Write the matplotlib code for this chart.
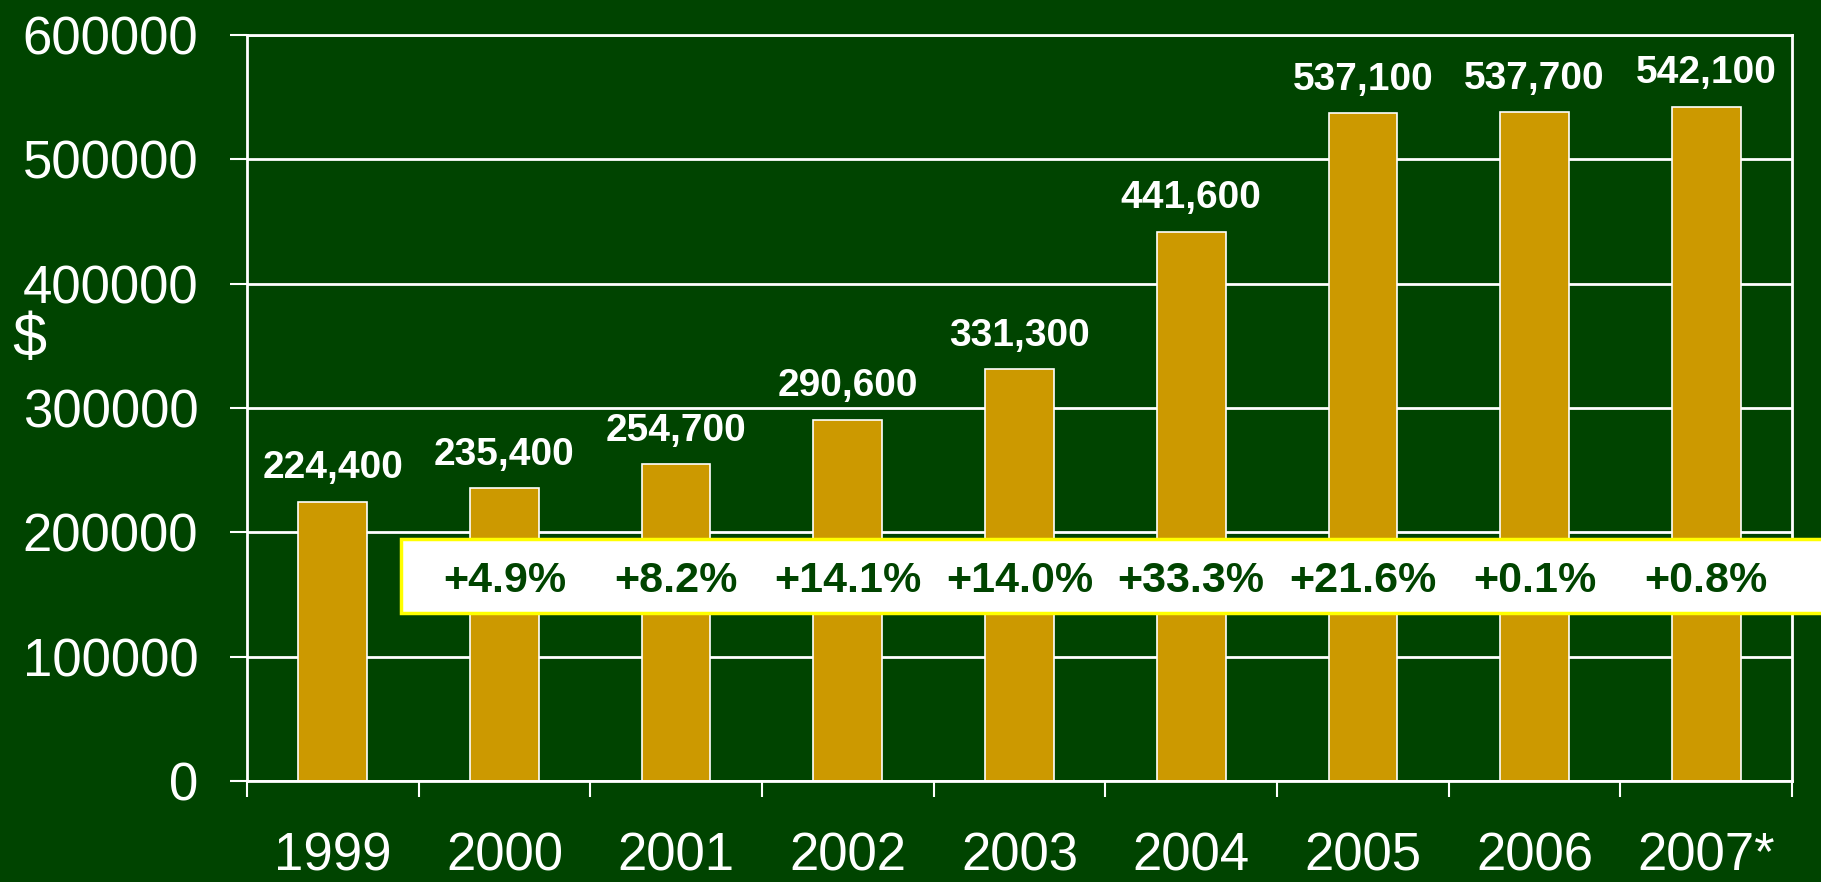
import matplotlib
matplotlib.use("Agg")
import matplotlib.pyplot as plt
from matplotlib.patches import Rectangle

# данные
years = ["1999", "2000", "2001", "2002", "2003", "2004", "2005", "2006", "2007*"]
prices = [224400, 235400, 254700, 290600, 331300, 441600, 537100, 537700, 542100]
changes = ["+4.9%", "+8.2%", "+14.1%", "+14.0%", "+33.3%", "+21.6%", "+0.1%", "+0.8%"]
yticks = [0, 100000, 200000, 300000, 400000, 500000, 600000]

bg = "#004400"
gold = "#CC9900"

plt.rcParams["font.family"] = ["Liberation Sans", "DejaVu Sans"]

fig = plt.figure(figsize=(18.21, 8.82), dpi=100, facecolor=bg)
ax = fig.add_axes([0.1356, 0.1145, 0.8485, 0.8458])
ax.set_facecolor(bg)

x = list(range(len(years)))
ax.bar(x, prices, width=0.4, color=gold, edgecolor="white", linewidth=1.2, zorder=2)

for xi, v in zip(x, prices):
    ax.text(xi, v + 12500, f"{v:,}", ha="center", va="bottom",
            color="white", fontsize=28, fontweight="bold", zorder=3)

ax.set_xlim(-0.5, len(years) - 0.5)
ax.set_ylim(0, 600000)
ax.set_yticks(yticks)
ax.set_yticklabels([str(t) for t in yticks])
ax.set_xticks(x)
ax.set_xticklabels(years)
ax.set_xticks([i - 0.5 for i in range(len(years) + 1)], minor=True)

ax.tick_params(axis="x", which="major", length=0, pad=36, labelsize=38, labelcolor="white")
ax.tick_params(axis="x", which="minor", length=11.5, width=1.5, color="white", direction="out")
ax.tick_params(axis="y", length=12, width=1.5, color="white", pad=23, labelsize=38, labelcolor="white")

ax.grid(axis="y", color="white", linewidth=2, zorder=1)
ax.set_axisbelow(True)
for s in ax.spines.values():
    s.set_color("white")
    s.set_linewidth(2)

fig.text(12 / 1821, 1 - 340 / 882, "$", color="white", fontsize=44, va="center", ha="left")

# белая плашка с процентами прироста
box = Rectangle((0.397, 135000), 8.5, 59500, facecolor="white", edgecolor="#FFFF00",
                linewidth=2.5, zorder=4, clip_on=False)
ax.add_patch(box)
for xi, t in zip(x[1:], changes):
    ax.text(xi, 161000, t, ha="center", va="center", color=bg,
            fontsize=31, fontweight="bold", zorder=5)

fig.savefig("out.png", dpi=100, facecolor=bg)
